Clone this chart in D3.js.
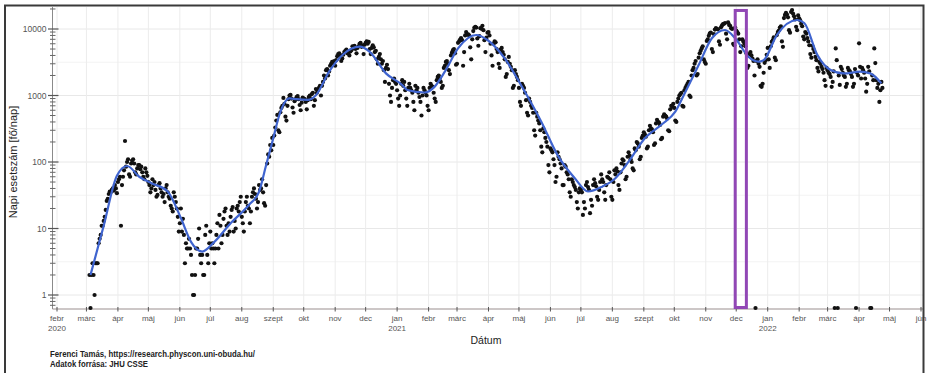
<!DOCTYPE html>
<html>
<head>
<meta charset="utf-8">
<script src="https://cdn.jsdelivr.net/npm/d3@7"></script>
<style>
  body { margin: 0; background: #fff; }
  svg { display: block; font-family: "Liberation Sans", Arial, sans-serif; }
</style>
</head>
<body>
<svg id="chart" width="929" height="373"></svg>
<script>
// Daily new COVID-19 cases, Hungary (log scale) with a smoothed trend.
const firstDay = "2020-03-04";

// one inner array per calendar month; 2020 starts on 4 March
const cases2020 = [
  [2,0,2,3,2,1,3,3,3,6,7,8,11,11,13,15,19,26,28,33,36,35,38,40,37,45,40,34],
  [50,55,60,11,45,60,75,207,85,100,110,65,60,95,105,110,95,70,65,80,90,90,78,85,70,60,55,80,70,62],
  [50,45,35,40,55,45,50,38,30,32,45,48,40,35,30,33,25,40,45,35,30,28,22,20,18,35,30,25,20,15,9],
  [12,20,9,14,8,3,6,5,5,7,5,4,2,1,1,2,5,5,7,10,4,3,4,2,2,8,11,4,3,6],
  [9,5,6,5,3,5,8,12,5,16,11,6,8,14,18,20,11,8,12,9,15,19,21,9,13,10,20,22,18,25,30],
  [15,12,9,18,25,30,22,20,12,18,30,35,40,33,28,20,25,45,38,40,55,35,24,22,45,95,130,120,180,150,230],
  [180,250,330,420,510,300,280,560,650,700,920,750,480,420,700,880,1000,1020,900,660,550,820,880,950,980,880,720,600,780,930],
  [900,880,800,620,850,950,1000,880,1050,1100,700,850,1250,1100,1200,1300,1400,1000,1400,1600,2000,1800,2400,2500,2000,2300,2800,3000,3200,3100,3300],
  [2800,3400,3900,4200,4300,4000,3300,3600,4100,4500,4700,4900,4300,4400,4000,4600,4800,5500,5200,5600,5000,4300,5200,5500,6000,6200,5400,5700,4200,5800],
  [6200,6500,6000,6400,5000,4200,5200,5700,5300,4500,4700,3500,3000,3800,4200,3500,3000,3300,2400,1600,2600,2900,2500,1500,1000,800,1300,1700,1800,1600,1500]
];
const cases2021 = [
  [1200,900,700,1000,1500,1700,1400,1600,1200,900,700,1300,1500,1300,1200,1100,800,600,1400,1200,1300,1100,950,800,500,1000,1300,1200,1100,1000,700],
  [600,1300,1500,1400,1350,1100,900,800,1700,1900,2000,1800,1600,1300,1400,2600,2800,3200,3300,3000,2400,2100,4000,4400,4800,5000,4300,2900],
  [3000,6200,6500,6900,7300,6800,2800,4500,8000,9000,8300,8300,8000,5300,3500,7000,9300,10400,10800,10500,7200,5600,7800,10300,10100,11200,9600,6800,4500,7400,8800],
  [9000,8000,6000,4000,2800,6000,6500,6300,5000,4500,3000,2600,4900,5200,4500,4100,3500,1900,2100,3200,3800,3000,2700,2400,1300,1400,2400,2100,1900,1700],
  [1300,800,700,1500,1400,1300,1100,850,550,500,900,800,700,650,550,300,250,550,480,420,380,300,170,140,320,280,230,200,170,90,70],
  [160,150,140,110,90,50,60,140,120,110,95,80,45,45,90,85,70,65,55,35,30,55,50,45,42,38,25,20,35,40],
  [38,35,16,25,20,45,50,42,38,17,27,22,45,55,48,43,30,27,38,50,65,55,50,35,27,45,60,58,70,55,30],
  [27,50,75,65,80,72,45,38,70,95,110,105,90,55,60,120,140,125,110,100,80,75,160,150,200,190,170,110,120,230,250],
  [280,260,240,160,170,300,350,320,310,280,180,190,380,430,400,390,360,220,230,480,520,500,480,450,300,290,620,700,680,750],
  [650,420,400,800,900,1000,1050,1100,700,680,1200,1300,1400,1500,1600,1000,950,2000,2400,2600,3000,3300,2000,2100,3700,4300,4700,5100,5500,3500,3200],
  [3000,6600,7000,7900,8600,8800,5000,4500,8400,9800,10300,10000,9900,6500,5800,10600,11300,11800,12000,12300,8500,7000,12600,11500,11200,10300,10000,6000,5700,10500],
  [9500,9000,8500,7000,4500,5500,7000,6500,6000,5500,4300,2600,2800,4200,4500,4000,3600,3300,2000,0,3300,3500,3000,2700,1400,1350,1500,2200,3100,3400,4100]
];
const cases2022 = [
  [5200,3500,2600,5500,6400,6800,7500,3700,3400,8100,9000,9500,10500,11000,6500,5400,14600,16300,17500,16500,15000,9600,8800,18000,19300,17000,15500,14000,10800,9600,16000],
  [14500,13500,12000,11000,7700,7000,9000,8500,7300,6500,5700,4200,3700,5600,5000,4500,3800,3400,2600,2300,3200,3000,2700,2500,2200,1700,1400,2600],
  [2400,2200,2100,1900,1350,1600,2300,0,5100,3400,0,2000,1440,2700,2500,2200,2000,1900,1350,1500,2600,2400,2300,2100,1900,1350,1500,2500,0,2200,2000],
  [6100,2700,1800,2600,2400,2200,1800,1140,1500,2700,2300,0,0,2000,1700,5100,3070,1700,1300,1500,800,1200,1600,1300]
];

// smoothed trend (loess-like), read at these dates
const smoothDates = [
  "2020-03-05","2020-03-18","2020-03-31","2020-04-10","2020-04-22","2020-05-04","2020-05-20","2020-06-02",
  "2020-06-12","2020-06-23","2020-07-05","2020-07-21","2020-08-08","2020-08-18","2020-08-25","2020-09-01",
  "2020-09-07","2020-09-17","2020-09-24","2020-10-05","2020-10-13","2020-10-26","2020-11-09","2020-11-25",
  "2020-12-05","2020-12-21","2021-01-06","2021-01-11","2021-01-28","2021-02-07","2021-02-17","2021-03-02",
  "2021-03-20","2021-03-31","2021-04-17","2021-05-03","2021-05-23","2021-06-08","2021-06-25","2021-07-08",
  "2021-07-22","2021-08-04","2021-08-17","2021-09-02","2021-09-18","2021-10-02","2021-10-12","2021-10-25",
  "2021-11-07","2021-11-20","2021-11-30","2021-12-13","2021-12-23","2021-12-28","2022-01-10","2022-01-30",
  "2022-02-06","2022-02-19","2022-03-04","2022-03-17","2022-04-02","2022-04-12","2022-04-23"
];
const smoothValues = [
  2,11,62,87,60,48,36,14.4,
  6.3,4.5,6.3,12,22.6,35.7,90,227,
  509,906,880,860,1010,2280,4170,5420,
  4540,2150,1440,1210,1110,1360,2280,5120,
  8120,6840,3620,1440,404,127,57,36,
  42.6,57,101,227,360,571,1140,2870,
  7250,9660,7250,3830,3230,3400,8120,13650,
  12300,4050,2420,2150,2280,2150,1520
];

// highlighted period
const highlightRange = ["2021-11-30", "2021-12-11"];
const highlightTop = 19000;

// axis labels
const monthNames = ["jan","febr","márc","ápr","máj","jún","júl","aug","szept","okt","nov","dec"];
const yTicks = [1, 10, 100, 1000, 10000];
const yTitle = "Napi esetszám [fő/nap]";
const xTitle = "Dátum";
const captionLines = ["Ferenci Tamás, https://research.physcon.uni-obuda.hu/", "Adatok forrása: JHU CSSE"];

const parse = d3.utcParse("%Y-%m-%d");

// assemble daily points
const points = [];
function addYear(year, firstMonth, months) {
  months.forEach((arr, m) => {
    const start = (year === 2020 && m === 0) ? parse(firstDay) : new Date(Date.UTC(year, firstMonth - 1 + m, 1));
    arr.forEach((v, i) => points.push({ date: d3.utcDay.offset(start, i), value: v }));
  });
}
addYear(2020, 3, cases2020);
addYear(2021, 1, cases2021);
addYear(2022, 1, cases2022);

const smooth = smoothDates.map((d, i) => ({ date: parse(d), value: smoothValues[i] }));

// layout
const panel = { left: 52.5, right: 923, top: 7, bottom: 309 };

const x = d3.scaleUtc()
  .domain([parse("2020-02-01"), parse("2022-06-01")])
  .range([57, 921]);
const y = d3.scaleLog()
  .domain([1, 10000])
  .range([295, 29]);

const svg = d3.select("#chart");

svg.append("rect").attr("width", 929).attr("height", 373).attr("fill", "#fff");

const clip = svg.append("defs").append("clipPath").attr("id", "panel-clip")
  .append("rect")
  .attr("x", panel.left).attr("y", panel.top - 3)
  .attr("width", panel.right - panel.left).attr("height", panel.bottom - panel.top + 6);

// grid
const monthTicks = d3.utcMonth.range(parse("2020-02-01"), d3.utcDay.offset(parse("2022-06-01"), 1));
const grid = svg.append("g");
const minorY = [Math.sqrt(10) * 0.1, Math.sqrt(10), Math.sqrt(10) * 10, Math.sqrt(10) * 100, Math.sqrt(10) * 1000, Math.sqrt(10) * 10000];
grid.selectAll("line.ymin").data(minorY.filter(v => y(v) >= panel.top && y(v) <= panel.bottom)).join("line")
  .attr("x1", panel.left).attr("x2", panel.right)
  .attr("y1", d => y(d)).attr("y2", d => y(d))
  .attr("stroke", "#f3f3f3").attr("stroke-width", 1);
grid.selectAll("line.ymaj").data(yTicks).join("line")
  .attr("x1", panel.left).attr("x2", panel.right)
  .attr("y1", d => y(d)).attr("y2", d => y(d))
  .attr("stroke", "#e8e8e8").attr("stroke-width", 1);
grid.selectAll("line.x").data(monthTicks.filter(d => x(d) < panel.right)).join("line")
  .attr("x1", d => x(d)).attr("x2", d => x(d))
  .attr("y1", panel.top).attr("y2", panel.bottom)
  .attr("stroke", "#ececec").attr("stroke-width", 1);

// y axis: line, major and minor ticks
const yAxis = svg.append("g");
yAxis.append("line")
  .attr("x1", panel.left).attr("x2", panel.left)
  .attr("y1", panel.top).attr("y2", panel.bottom)
  .attr("stroke", "#8a8a8a").attr("stroke-width", 1);
const minorTicks = [];
[0.1, 1, 10, 100, 1000, 10000].forEach(base => {
  for (let k = 2; k <= 9; k++) {
    const v = base * k;
    if (y(v) >= panel.top && y(v) <= panel.bottom) minorTicks.push(v);
  }
});
yAxis.selectAll("line.minor").data(minorTicks).join("line")
  .attr("x1", panel.left - 2.5).attr("x2", panel.left + 3)
  .attr("y1", d => y(d)).attr("y2", d => y(d))
  .attr("stroke", "#666").attr("stroke-width", 1);
yAxis.selectAll("line.major").data(yTicks).join("line")
  .attr("x1", panel.left - 4.5).attr("x2", panel.left + 6)
  .attr("y1", d => y(d)).attr("y2", d => y(d))
  .attr("stroke", "#555").attr("stroke-width", 1.2);
yAxis.selectAll("text").data(yTicks).join("text")
  .attr("x", panel.left - 6).attr("y", d => y(d) + 3)
  .attr("text-anchor", "end")
  .attr("font-size", 8.5).attr("fill", "#555")
  .text(d => String(d));

// x axis
const xAxis = svg.append("g");
xAxis.append("line")
  .attr("x1", panel.left).attr("x2", panel.right)
  .attr("y1", panel.bottom).attr("y2", panel.bottom)
  .attr("stroke", "#9a8f8f").attr("stroke-width", 1);
xAxis.selectAll("line.tick").data(monthTicks).join("line")
  .attr("x1", d => x(d)).attr("x2", d => x(d))
  .attr("y1", panel.bottom - 2).attr("y2", panel.bottom + 2.5)
  .attr("stroke", "#555").attr("stroke-width", 1);
const monthLabels = xAxis.selectAll("text.m").data(monthTicks).join("text")
  .attr("x", d => x(d)).attr("y", 321)
  .attr("text-anchor", "middle")
  .attr("font-size", 8).attr("fill", "#555")
  .text(d => monthNames[d.getUTCMonth()]);
xAxis.selectAll("text.yr").data(monthTicks.filter((d, i) => i === 0 || d.getUTCMonth() === 0)).join("text")
  .attr("x", d => x(d)).attr("y", 330.5)
  .attr("text-anchor", "middle")
  .attr("font-size", 8).attr("fill", "#555")
  .text(d => String(d.getUTCFullYear()));

// smoothed trend and daily points
const plot = svg.append("g").attr("clip-path", "url(#panel-clip)");

const line = d3.line()
  .x(d => x(d.date))
  .y(d => y(d.value))
  .curve(d3.curveMonotoneX);

plot.selectAll("circle").data(points).join("circle")
  .attr("cx", d => x(d.date))
  .attr("cy", d => d.value > 0 ? y(d.value) : panel.bottom - 1)
  .attr("r", 2.1)
  .attr("fill", "#111");

plot.append("path").datum(smooth)
  .attr("d", line)
  .attr("fill", "none")
  .attr("stroke", "#3f64cf")
  .attr("stroke-width", 2.2)
  .attr("stroke-linejoin", "round");

// highlighted period box
const hx0 = x(parse(highlightRange[0]));
const hx1 = x(parse(highlightRange[1]));
svg.append("rect")
  .attr("x", hx0).attr("y", y(highlightTop))
  .attr("width", hx1 - hx0)
  .attr("height", (panel.bottom - 1.5) - y(highlightTop))
  .attr("fill", "none")
  .attr("stroke", "#9147b5")
  .attr("stroke-width", 3);

// titles
svg.append("text")
  .attr("transform", `translate(17,${(panel.top + panel.bottom) / 2 + 4}) rotate(-90)`)
  .attr("text-anchor", "middle")
  .attr("font-size", 11).attr("fill", "#222")
  .text(yTitle);
svg.append("text")
  .attr("x", 486).attr("y", 344)
  .attr("text-anchor", "middle")
  .attr("font-size", 10.5).attr("fill", "#222")
  .text(xTitle);

// caption
svg.append("text")
  .attr("x", 50).attr("y", 357)
  .attr("font-size", 8.5).attr("font-weight", "bold").attr("fill", "#222")
  .attr("textLength", 205).attr("lengthAdjust", "spacingAndGlyphs")
  .text(captionLines[0]);
svg.append("text")
  .attr("x", 50).attr("y", 367)
  .attr("font-size", 8.5).attr("font-weight", "bold").attr("fill", "#222")
  .attr("textLength", 98).attr("lengthAdjust", "spacingAndGlyphs")
  .text(captionLines[1]);

// outer frame
svg.append("path")
  .attr("d", "M5,373 V5.5 H923.5 V373")
  .attr("fill", "none")
  .attr("stroke", "#3a3a3a")
  .attr("stroke-width", 2);
</script>
</body>
</html>
